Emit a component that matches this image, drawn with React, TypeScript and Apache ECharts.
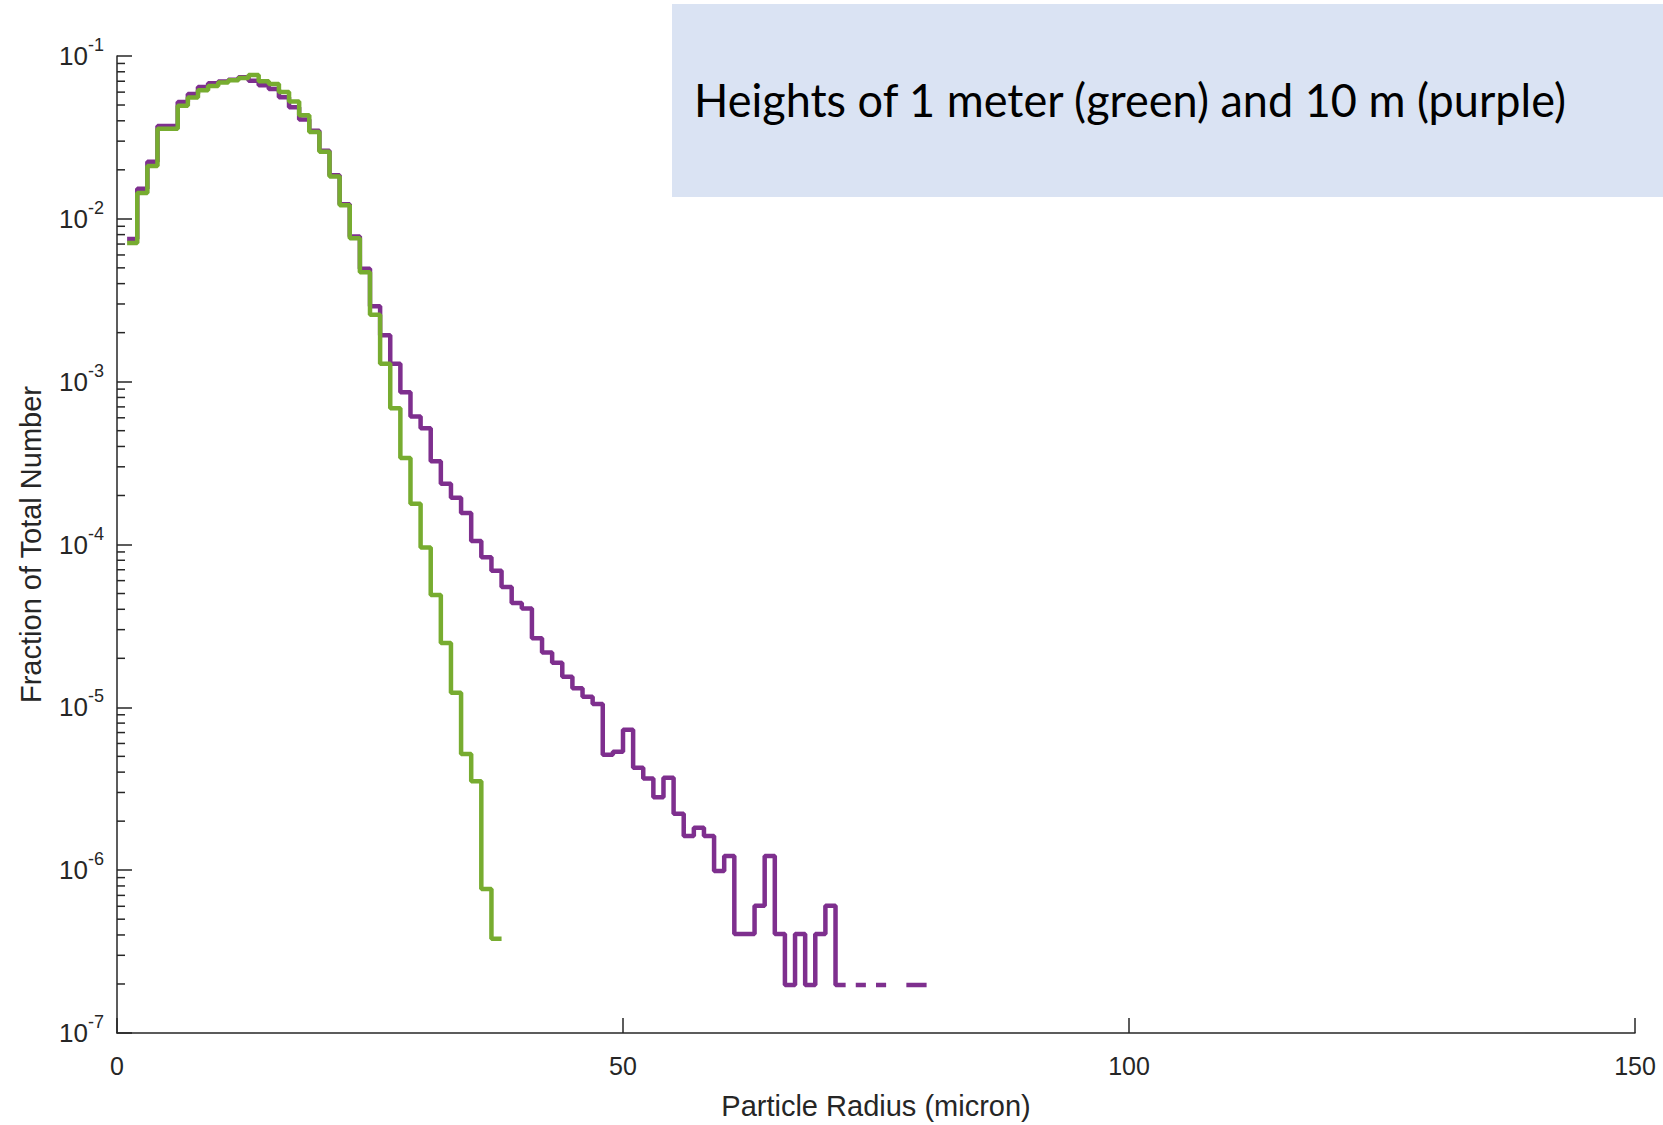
import React, { useEffect, useRef } from "react";
import * as echarts from "echarts";

// Histogram bins: 1 micron wide, first bin starts at 1 micron
const firstEdge = 1;
const binWidth = 1;

// Height 1 m (green) – fraction of total number per bin
const greenFraction = [
  7.1e-3, 1.44e-2, 2.11e-2, 3.57e-2, 3.57e-2, 4.95e-2, 5.57e-2, 6.16e-2, 6.55e-2, 6.87e-2,
  7.09e-2, 7.33e-2, 7.65e-2, 7.0e-2, 6.74e-2, 6.0e-2, 5.25e-2, 4.32e-2, 3.42e-2, 2.58e-2,
  1.82e-2, 1.21e-2, 7.6e-3, 4.7e-3, 2.58e-3, 1.29e-3, 6.87e-4, 3.4e-4, 1.78e-4, 9.6e-5,
  4.89e-5, 2.48e-5, 1.23e-5, 5.16e-6, 3.51e-6, 7.66e-7, 3.79e-7,
];

// Height 10 m (purple) – null = empty bin
const purpleFraction = [
  7.53e-3, 1.53e-2, 2.24e-2, 3.72e-2, 3.72e-2, 5.22e-2, 5.84e-2, 6.45e-2, 6.8e-2, 6.98e-2,
  7.16e-2, 7.4e-2, 7.05e-2, 6.62e-2, 6.28e-2, 5.58e-2, 4.85e-2, 4.08e-2, 3.48e-2, 2.62e-2,
  1.85e-2, 1.23e-2, 7.8e-3, 4.94e-3, 2.9e-3, 1.93e-3, 1.29e-3, 8.61e-4, 6.11e-4, 5.18e-4,
  3.25e-4, 2.36e-4, 1.94e-4, 1.56e-4, 1.05e-4, 8.36e-5, 6.9e-5, 5.48e-5, 4.38e-5, 4.05e-5,
  2.66e-5, 2.17e-5, 1.88e-5, 1.54e-5, 1.31e-5, 1.16e-5, 1.05e-5, 5.12e-6, 5.33e-6, 7.28e-6,
  4.25e-6, 3.66e-6, 2.8e-6, 3.69e-6, 2.22e-6, 1.62e-6, 1.82e-6, 1.62e-6, 9.9e-7, 1.22e-6,
  4.06e-7, 4.06e-7, 6.05e-7, 1.22e-6, 4.06e-7, 1.97e-7, 4.06e-7, 1.97e-7, 4.06e-7, 6.05e-7,
  1.97e-7, null, 1.97e-7, null, 1.97e-7, null, null, 1.97e-7, 1.97e-7,
];

const xTickValues = [0, 50, 100, 150];
const yDecadeExponents = [-7, -6, -5, -4, -3, -2];
const minorMultipliers = [2, 3, 4, 5, 6, 7, 8, 9];

const titleText = "Heights of 1 meter (green) and 10 m (purple)";
const xAxisTitle = "Particle Radius (micron)";
const yAxisTitle = "Fraction of Total Number";

const AXIS_COLOR = "#262626";
const GREEN = "#77AC30";
const PURPLE = "#7E2F8E";
const FONT = "'Liberation Sans', Arial, Helvetica, sans-serif";

function stairPoints(vals: (number | null)[]) {
  const pts: (number | null)[][] = [];
  vals.forEach((v, i) => {
    const x0 = firstEdge + i * binWidth;
    const x1 = x0 + binWidth;
    if (v == null) {
      pts.push([x0, null]);
      return;
    }
    pts.push([x0, v], [x1, v]);
  });
  return pts;
}

export default function App() {
  const ref = useRef<HTMLDivElement>(null);

  useEffect(() => {
    if (!ref.current) return;
    const chart = echarts.init(ref.current, null, { renderer: "svg" });

    const titleFontSize = 46;
    const titleFontFamily = "Lato";
    let titleScaleX = 1;
    try {
      const ctx = document.createElement("canvas").getContext("2d");
      if (ctx) {
        ctx.font = `${titleFontSize}px ${titleFontFamily}`;
        const w = ctx.measureText(titleText).width;
        if (w > 0) titleScaleX = 874 / w;
      }
    } catch (e) {
      titleScaleX = 1;
    }

    const minorTicks: number[][] = [];
    yDecadeExponents.forEach((e) => {
      minorMultipliers.forEach((m) => {
        minorTicks.push([0, m * Math.pow(10, e)]);
      });
    });

    const option: any = {
      animation: false,
      backgroundColor: "#ffffff",
      grid: { left: 117, top: 56, width: 1518, height: 987 },
      xAxis: {
        type: "value",
        min: xTickValues[0],
        max: xTickValues[xTickValues.length - 1],
        interval: 50,
        name: xAxisTitle,
        nameLocation: "middle",
        nameGap: 58,
        nameTextStyle: { fontSize: 29, color: AXIS_COLOR, fontFamily: FONT },
        axisLine: { lineStyle: { color: AXIS_COLOR, width: 1.5 } },
        axisTick: { inside: true, length: 15, lineStyle: { color: AXIS_COLOR, width: 1.5 } },
        axisLabel: { fontSize: 25, color: AXIS_COLOR, fontFamily: FONT, margin: 20 },
        splitLine: { show: false },
      },
      yAxis: {
        type: "log",
        logBase: 10,
        min: 1e-7,
        max: 1e-1,
        splitNumber: 6,
        name: yAxisTitle,
        nameLocation: "middle",
        nameRotate: 90,
        nameGap: 72,
        nameTextStyle: { fontSize: 29, color: AXIS_COLOR, fontFamily: FONT },
        axisLine: { show: true, lineStyle: { color: AXIS_COLOR, width: 1.5 } },
        axisTick: { show: true, inside: true, length: 15, lineStyle: { color: AXIS_COLOR, width: 1.5 } },
        splitLine: { show: false },
        axisLabel: {
          margin: 13,
          color: AXIS_COLOR,
          fontFamily: FONT,
          formatter: (val: number) => `{b|10}{s|${Math.round(Math.log10(val))}}`,
          rich: {
            b: { fontSize: 26, lineHeight: 26, verticalAlign: "bottom", color: AXIS_COLOR, fontFamily: FONT },
            s: {
              fontSize: 18,
              lineHeight: 18,
              padding: [0, 0, 15, 0],
              verticalAlign: "bottom",
              color: AXIS_COLOR,
              fontFamily: FONT,
            },
          },
        },
      },
      graphic: [
        {
          type: "rect",
          shape: { x: 672, y: 4, width: 991, height: 193 },
          style: { fill: "#DAE3F3" },
          z: 10,
        },
        {
          type: "text",
          x: 694,
          y: 99,
          scaleX: titleScaleX,
          z: 11,
          style: {
            text: titleText,
            fontFamily: titleFontFamily,
            fontSize: titleFontSize,
            fill: "#000000",
            align: "left",
            verticalAlign: "middle",
          },
        },
      ],
      series: [
        {
          type: "custom",
          coordinateSystem: "cartesian2d",
          data: minorTicks,
          encode: { x: 0, y: 1 },
          silent: true,
          z: 3,
          renderItem: (_params: any, api: any) => {
            const p = api.coord([api.value(0), api.value(1)]);
            return {
              type: "line",
              shape: { x1: p[0], y1: p[1], x2: p[0] + 8, y2: p[1] },
              style: { stroke: AXIS_COLOR, lineWidth: 1.5 },
            };
          },
        },
        {
          type: "line",
          name: "10 m",
          data: stairPoints(purpleFraction),
          symbol: "none",
          showSymbol: false,
          connectNulls: false,
          lineStyle: { color: PURPLE, width: 4.5 },
          z: 4,
        },
        {
          type: "line",
          name: "1 m",
          data: stairPoints(greenFraction),
          symbol: "none",
          showSymbol: false,
          connectNulls: false,
          lineStyle: { color: GREEN, width: 4.5 },
          z: 5,
        },
      ],
    };

    chart.setOption(option);
    return () => {
      chart.dispose();
    };
  }, []);

  return (
    <div
      ref={ref}
      style={{ position: "fixed", left: 0, top: 0, width: 1663, height: 1125, background: "#fff" }}
    />
  );
}
